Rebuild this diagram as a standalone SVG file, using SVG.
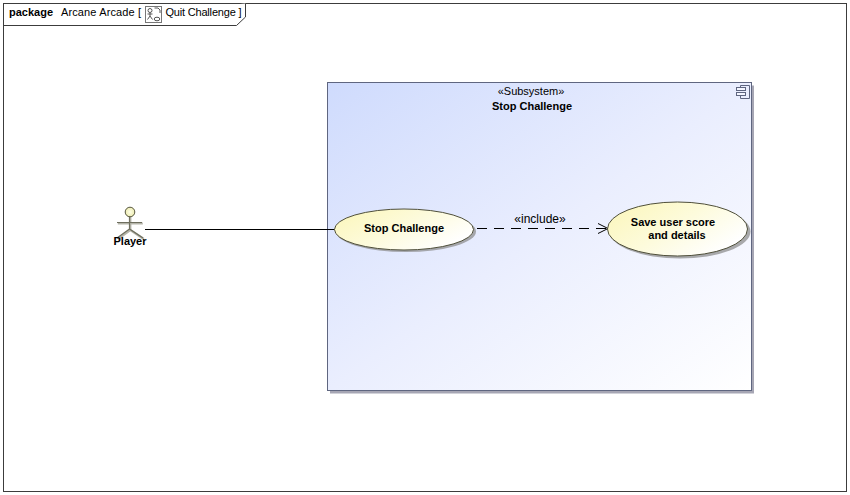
<svg xmlns="http://www.w3.org/2000/svg" width="850" height="495" viewBox="0 0 850 495">
<style>
text{font-family:"Liberation Sans",Arial,sans-serif;font-size:11px;fill:#000}
.b{font-weight:bold}
.m{text-anchor:middle}
.uc{fill:url(#ucg);stroke:#4f4f3a;stroke-width:1}
.sh{fill:#8f8f8f;opacity:.75}
.ic{fill:none;stroke:#555;stroke-width:1}
.act{fill:none;stroke:#6e6e5e;stroke-width:1.2}
</style>
<defs>
<linearGradient id="sg" x1="0" y1="0" x2="1" y2="1"><stop offset="0" stop-color="#cfdbfd"/><stop offset=".5" stop-color="#eaeefe"/><stop offset="1" stop-color="#ffffff"/></linearGradient>
<linearGradient id="ucg" x1="0" y1="0" x2="1" y2=".6"><stop offset="0" stop-color="#fbf6b8"/><stop offset=".55" stop-color="#fdfbdc"/><stop offset="1" stop-color="#ffffff"/></linearGradient>
<radialGradient id="hd"><stop offset="0" stop-color="#ffffe8"/><stop offset="1" stop-color="#ecebb0"/></radialGradient>
<marker id="open" markerUnits="userSpaceOnUse" markerWidth="14" markerHeight="12" refX="11" refY="6" orient="auto"><path d="M1 1 L11 6 L1 11" fill="none" stroke="#000" stroke-width="1"/></marker>
</defs>
<rect width="850" height="495" fill="#fff"/>
<g id="frame">
<rect x="3.500" y="3.500" width="843" height="488" fill="#fff" stroke="#3c3c3c" stroke-width="1"/>
<path d="M3.500 25.500 H236.500 L245.500 17 V3.500" fill="#fff" stroke="#3c3c3c" stroke-width="1"/>
<text x="9" y="16" class="b">package</text>
<text x="61" y="16" textLength="80">Arcane Arcade [</text>
<rect x="145.500" y="6.500" width="16" height="16" fill="#fff" stroke="#777"/>
<circle cx="150" cy="10.500" r="2" class="ic"/>
<path d="M150 12.500 V16 M147.500 14 H152.500 M150 16 L147.500 19.500 M150 16 L152.500 19.500" class="ic"/>
<ellipse cx="157" cy="19" rx="2.800" ry="1.800" class="ic"/>
<path d="M154.500 8 H158 L160 10 V13" class="ic"/>
<text x="165.500" y="16" textLength="76">Quit Challenge ]</text>
</g>
<g id="subsystem">
<rect x="330" y="85.500" width="424" height="308" fill="#a6a6b4"/>
<rect x="327.500" y="82.500" width="424" height="308" fill="url(#sg)" stroke="#5f6680" stroke-width="1"/>
<text x="531" y="95" class="m">«Subsystem»</text>
<text x="532" y="110" class="m b">Stop Challenge</text>
<path d="M740.500 85.500 H749.500 V98.500 H740.500 V95.500 M740.500 90.500 V85.500" fill="none" stroke="#5f6680"/>
<rect x="736.500" y="87.500" width="9" height="3" fill="#f4f6ff" stroke="#5f6680"/>
<rect x="736.500" y="92.500" width="9" height="3" fill="#f4f6ff" stroke="#5f6680"/>
</g>
<g id="connectors">
<path d="M145 229.500 H335" fill="none" stroke="#000" stroke-width="1.100"/>
<path d="M477 228.500 H608" fill="none" stroke="#000" stroke-width="1" stroke-dasharray="10 7" marker-end="url(#open)"/>
<text x="540" y="223" class="m" style="font-size:12px">«include»</text>
</g>
<g id="player">
<path d="M129.500 216 V229 M117 222.500 H142 M129.500 229 L117 238 M129.500 229 L143 238" stroke="#b5b5aa" stroke-width="2.200" fill="none" transform="translate(.8 1)"/>
<path d="M129.500 216 V229 M117 222.500 H142 M129.500 229 L117 238 M129.500 229 L143 238" class="act"/>
<circle cx="130" cy="212" r="4.800" fill="url(#hd)" stroke="#55553f"/>
<text x="130" y="245" class="m b">Player</text>
</g>
<g id="uc-stop">
<ellipse cx="406" cy="231.500" rx="70" ry="20.500" class="sh"/>
<ellipse cx="404" cy="229.500" rx="69.500" ry="20.500" class="uc"/>
<text x="404" y="232" class="m b">Stop Challenge</text>
</g>
<g id="uc-save">
<ellipse cx="680" cy="231.500" rx="70.500" ry="27" class="sh"/>
<ellipse cx="677.500" cy="229" rx="70" ry="27" class="uc"/>
<text x="673" y="226" class="m b">Save user score</text>
<text x="677" y="239" class="m b">and details</text>
</g>
</svg>
